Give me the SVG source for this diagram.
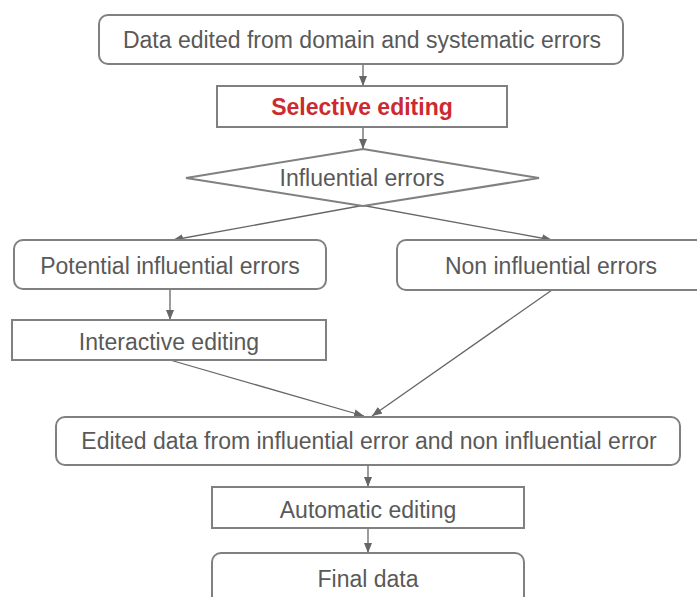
<svg xmlns="http://www.w3.org/2000/svg" width="697" height="597" viewBox="0 0 697 597">
<defs>
<marker id="ah" markerUnits="userSpaceOnUse" markerWidth="10" markerHeight="10" viewBox="0 0 10 10" refX="10" refY="5" orient="auto">
<path d="M0,1 L10,5 L0,9 Z" fill="#666"/>
</marker>
<style>
.box{fill:#fff;stroke:#808080;stroke-width:2}
.t{font-family:"Liberation Sans",Arial,sans-serif;font-size:23px;fill:#595959;text-anchor:middle;dominant-baseline:central}
.red{fill:#cc2a30;font-weight:bold}
.c{fill:none;stroke:#666;stroke-width:1.3;marker-end:url(#ah)}
</style>
</defs>
<rect width="697" height="597" fill="#fff"/>
<g id="connectors">
<line class="c" x1="363" y1="64" x2="363" y2="86"/>
<line class="c" x1="363" y1="127" x2="363" y2="149"/>
<line class="c" x1="420" y1="195" x2="173" y2="240"/>
<line class="c" x1="306" y1="195" x2="552" y2="240"/>
<line class="c" x1="170" y1="289" x2="170" y2="320"/>
<line class="c" x1="170" y1="360" x2="364" y2="416"/>
<line class="c" x1="552" y1="290" x2="372" y2="416"/>
<line class="c" x1="368" y1="465" x2="368" y2="487"/>
<line class="c" x1="368" y1="528" x2="368" y2="553"/>
</g>
<g id="n1"><rect class="box" x="99" y="15" width="524" height="49" rx="9"/><text class="t" x="362" y="40">Data edited from domain and systematic errors</text></g>
<g id="n2"><rect class="box" x="217" y="86" width="290" height="41"/><text class="t red" x="362" y="107">Selective editing</text></g>
<g id="n3"><polygon class="box" points="363,149 539,178 363,206 186,178"/><text class="t" x="362" y="178">Influential errors</text></g>
<g id="n4"><rect class="box" x="14" y="240" width="312" height="49" rx="9"/><text class="t" x="170" y="266">Potential influential errors</text></g>
<g id="n5"><rect class="box" x="397" y="240" width="310" height="50" rx="9"/><text class="t" x="551" y="266">Non influential errors</text></g>
<g id="n6"><rect class="box" x="12" y="320" width="314" height="40"/><text class="t" x="169" y="342">Interactive editing</text></g>
<g id="n7"><rect class="box" x="56" y="417" width="624" height="48" rx="9"/><text class="t" x="369" y="441">Edited data from influential error and non influential error</text></g>
<g id="n8"><rect class="box" x="212" y="487" width="312" height="41"/><text class="t" x="368" y="510">Automatic editing</text></g>
<g id="n9"><rect class="box" x="212" y="553" width="312" height="60" rx="9"/><text class="t" x="368" y="579">Final data</text></g>
</svg>
